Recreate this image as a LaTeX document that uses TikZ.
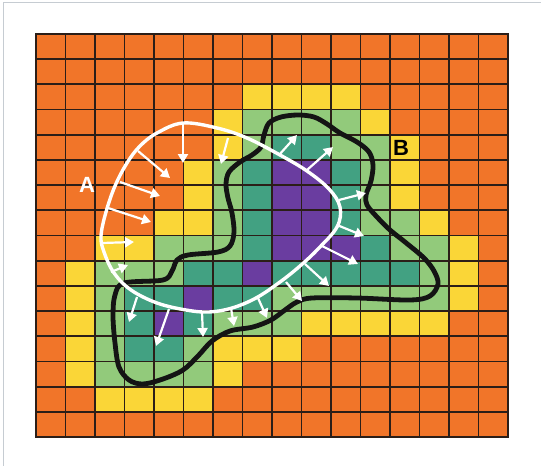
\documentclass[tikz,border=0pt]{standalone}
\usepackage{fontspec}
\setmainfont{Liberation Sans}
\usetikzlibrary{arrows.meta}

\definecolor{cO}{HTML}{F17529}
\definecolor{cY}{HTML}{FAD637}
\definecolor{cL}{HTML}{92CA7B}
\definecolor{cT}{HTML}{42A182}
\definecolor{cP}{HTML}{6A3DA0}
\definecolor{gridcol}{HTML}{2B1E18}
\definecolor{framecol}{HTML}{C6CCD2}

\begin{document}
\begin{tikzpicture}[
    x=1pt, y=-1pt,
    gridline/.style={draw=gridcol, line width=1.8pt},
    regionA/.style={draw=white, line width=3.4pt},
    regionB/.style={draw=black!92, line width=4.8pt, line join=round},
    pusharrow/.style={white, line width=2.2pt, -{Triangle[length=9pt, width=10pt]}},
    tag/.style={font=\bfseries\fontsize{22}{22}\selectfont, inner sep=0pt}
  ]
    \useasboundingbox (0,0) rectangle (541,466);
    \fill[white] (0,0) rectangle (541,466);
    % picture frame
    \draw[framecol, line width=1.2pt] (3.5,466) -- (3.5,2.5) -- (541,2.5);

    % cells, one row per line
    \foreach \row [count=\r from 0] in {
      {O,O,O,O,O,O,O,O,O,O,O,O,O,O,O,O},
      {O,O,O,O,O,O,O,O,O,O,O,O,O,O,O,O},
      {O,O,O,O,O,O,O,Y,Y,Y,Y,O,O,O,O,O},
      {O,O,O,O,O,O,Y,L,L,L,L,Y,O,O,O,O},
      {O,O,O,O,O,O,Y,L,T,T,L,L,Y,O,O,O},
      {O,O,O,O,O,Y,L,T,P,P,T,L,Y,O,O,O},
      {O,O,O,O,O,Y,L,T,P,P,T,L,Y,O,O,O},
      {O,O,O,O,Y,Y,L,T,P,P,T,L,L,Y,O,O},
      {O,O,Y,Y,L,L,L,T,P,P,P,T,L,L,Y,O},
      {O,Y,L,L,L,T,T,P,T,T,T,T,T,L,Y,O},
      {O,Y,L,T,T,P,T,T,L,L,L,L,L,L,Y,O},
      {O,Y,L,T,P,T,L,L,L,Y,Y,Y,Y,Y,O,O},
      {O,Y,L,T,T,L,Y,Y,Y,O,O,O,O,O,O,O},
      {O,Y,L,L,L,L,Y,O,O,O,O,O,O,O,O,O},
      {O,O,Y,Y,Y,Y,O,O,O,O,O,O,O,O,O,O},
      {O,O,O,O,O,O,O,O,O,O,O,O,O,O,O,O}}
    {
      \foreach \c [count=\k from 0] in \row
        \fill[c\c] ({36+29.5*\k},{34+25.19*\r}) rectangle ++(29.5,25.19);
    }

    % grid lines
    \foreach \k in {0,...,16} {
      \draw[gridline] ({36+29.5*\k},34) -- ({36+29.5*\k},437);
      \draw[gridline] (36,{34+25.19*\k}) -- (508,{34+25.19*\k});
    }
    \draw[gridcol, line width=2.4pt] (36,34) rectangle (508,437);

    % region B
    \draw[regionB] plot[smooth cycle, tension=0.55] coordinates {
      (240,162) (229,172) (226,184) (228,198) (232,213) (234,232) (230,246)
      (218,252) (188,255) (177,260) (172,271) (163,280) (124,283) (115,295)
      (113,316) (115,343) (119,367) (129,380) (143,384) (163,379) (183,370)
      (198,356) (212,341) (230,331) (253,327) (271,320) (285,310) (297,302)
      (312,298) (357,298) (410,300) (430,296) (438,284) (434,271) (424,258)
      (405,242) (390,230) (377,217) (367,205) (366,195) (371,181) (373,165)
      (369,152) (357,142) (340,133) (327,124) (314,117) (298,115) (281,117)
      (269,123) (264,135) (261,147) (252,155)};

    % region A
    \draw[regionA] plot[smooth cycle, tension=0.6] coordinates {
      (183,123) (217,128) (247,138) (280,155) (307,171) (329,189) (340,207)
      (337,227) (318,249) (300,266) (280,282) (256,298) (232,308) (209,312)
      (186,310) (157,303) (131,290) (114,273) (104,252) (101,236) (106,212)
      (115,186) (127,163) (140,146) (157,133)};

    % arrows out of region A
    \foreach \sx/\sy/\ex/\ey in {
        183/124/183/163, 228/138/221/164, 138/151/170/178, 120/182/160/196,
        108/208/151/222, 102/243/134/242, 111/272/128/265, 137/297/129/322,
        169/309/156/346, 202/312/203/337, 231/308/234/326, 258/298/267/318,
        286/282/302/301, 305/264/329/286, 322/246/358/264, 337/225/364/236,
        339/200/366/193, 307/170/333/147, 279/155/297/135}
      \draw[pusharrow] (\sx,\sy) -- (\ex,\ey);

    % labels
    \node[tag, white] (labA) at (87,185) {A};
    \node[tag, black] (labB) at (401,148) {B};
\end{tikzpicture}
\end{document}
